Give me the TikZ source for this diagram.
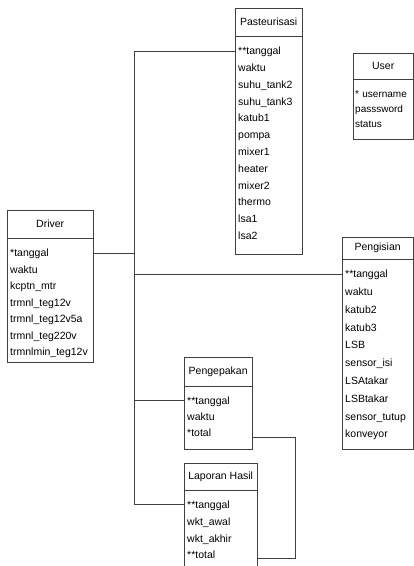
\documentclass[tikz,border=0pt]{standalone}
\usepackage{fontspec}
\setmainfont{Liberation Sans}
\hyphenpenalty=10000
\begin{document}
\begin{tikzpicture}[x=1pt, y=-1pt, font=\fontsize{10.5}{16.5}\selectfont,
  judul/.style={draw=black!75, anchor=north west, inner sep=0pt},
  atribut/.style={draw=black!75, anchor=north west, align=left, inner xsep=3pt, inner ysep=0pt,
    execute at begin node={\rule{0pt}{18pt}}},
  baris/.style={font=\fontsize{10.5}{#1}\selectfont},
  bawah/.style={execute at end node={\rule[-#1]{0pt}{0pt}}},
  garis/.style={draw=black!75}]
\useasboundingbox (0,0) rectangle (414,566);
% tabel-tabel
\node[judul, minimum width=67, minimum height=28] (pasteur) at (235,8) {Pasteurisasi};
\node[atribut, baris=16.8, bawah=14.5pt, text width=61] (pasteurAtr) at (pasteur.south west) {**tanggal\\waktu\\suhu\_tank2\\suhu\_tank3\\katub1\\pompa\\mixer1\\heater\\mixer2\\thermo\\lsa1\\lsa2};
\node[judul, minimum width=60, minimum height=26] (user) at (353,53) {User};
\node[atribut, font=\fontsize{10}{15}\selectfont, inner xsep=2pt, bawah=11.5pt, text width=56] (userAtr) at (user.south west) {* username\\passsword\\status};
\node[judul, minimum width=86, minimum height=28] (driver) at (7,210) {Driver};
\node[atribut, baris=16.5, bawah=6.5pt, text width=80] (driverAtr) at (driver.south west) {*tanggal\\waktu\\kcptn\_mtr\\trmnl\_teg12v\\trmnl\_teg12v5a\\trmnl\_teg220v\\trmnlmin\_teg12v};
\node[judul, minimum width=71, minimum height=22] (isi) at (342,237) {Pengisian};
\node[atribut, baris=17.8, bawah=11.5pt, text width=65] (isiAtr) at (isi.south west) {**tanggal\\waktu\\katub2\\katub3\\LSB\\sensor\_isi\\LSAtakar\\LSBtakar\\sensor\_tutup\\konveyor};
\node[judul, minimum width=68, minimum height=29] (kemas) at (184,357) {Pengepakan};
\node[atribut, baris=16, bawah=12.5pt, text width=62] (kemasAtr) at (kemas.south west) {**tanggal\\waktu\\{}*total};
\node[judul, minimum width=73, minimum height=27] (lapor) at (184,463) {Laporan Hasil};
\node[atribut, baris=16.7, bawah=14pt, text width=67] (laporAtr) at (lapor.south west) {**tanggal\\wkt\_awal\\wkt\_akhir\\{}**total};
% titik sambung
\coordinate (bus) at (134,0);
\coordinate (kanan) at (295,0);
\path ([yshift=-14.5pt]pasteurAtr.north west) coordinate (pKiri)
      ([yshift=-14.5pt]driverAtr.north east) coordinate (dKanan)
      ([yshift=-14.5pt]isiAtr.north west) coordinate (iKiri)
      ([yshift=-13.5pt]kemasAtr.north west) coordinate (kKiri)
      ([yshift=-51pt]kemasAtr.north east) coordinate (kKanan)
      ([yshift=-13.5pt]laporAtr.north west) coordinate (lKiri)
      ([yshift=-68pt]laporAtr.north east) coordinate (lKanan);
\draw[garis] (pKiri) -- (bus |- pKiri) -- (bus |- lKiri) -- (lKiri);
\draw[garis] (dKanan) -- (bus |- dKanan);
\draw[garis] (bus |- iKiri) -- (iKiri);
\draw[garis] (bus |- kKiri) -- (kKiri);
\draw[garis] (kKanan) -- (kanan |- kKanan) -- (kanan |- lKanan) -- (lKanan);
\end{tikzpicture}
\end{document}
